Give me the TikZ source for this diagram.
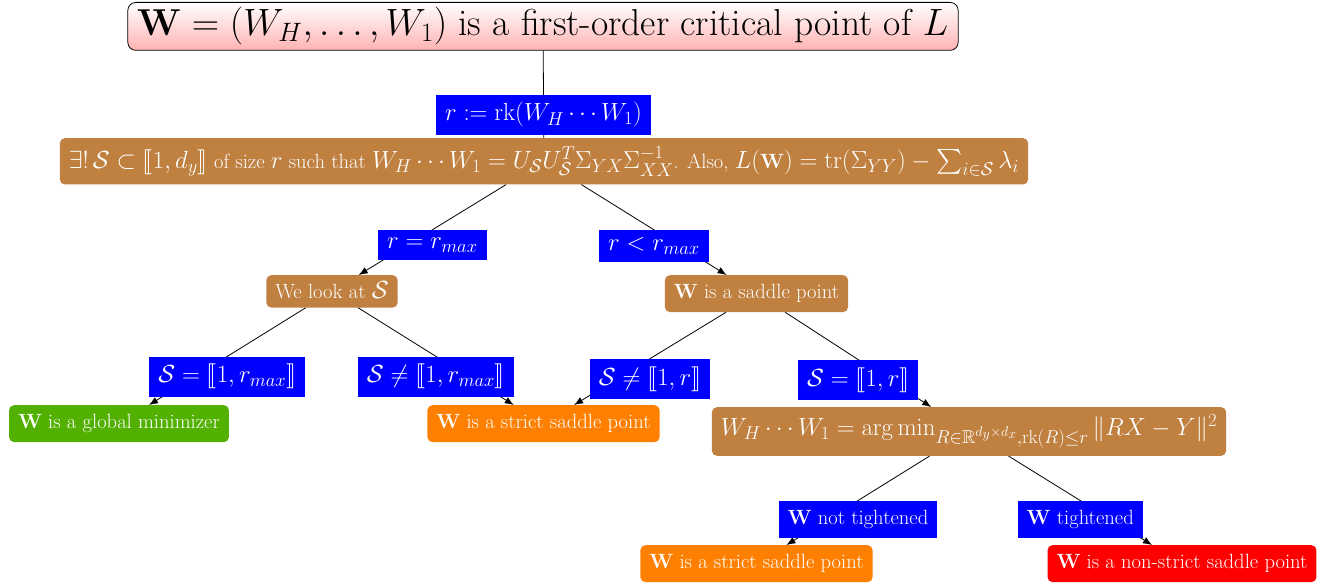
\RequirePackage{fix-cm}
\documentclass[tikz,border=0pt]{standalone}
\usepackage{amsmath,amssymb}
\usepackage{stmaryrd}
\usepackage[no-math]{fontspec}
\DeclareMathSizes{20.6}{24.8}{18.6}{14}
\DeclareMathSizes{37.5}{38}{26.6}{19}
\usetikzlibrary{arrows.meta}
\definecolor{mybrown}{RGB}{191,128,64}
\definecolor{mygreen}{RGB}{82,176,0}
\definecolor{myorange}{RGB}{255,128,0}
\newcommand{\bW}{\textbf{W}}
\begin{document}
\begin{tikzpicture}[x=1pt,y=-1pt,
  font=\fontsize{20.6}{24}\selectfont,
  box/.style={rounded corners=5pt, inner xsep=9pt, inner ysep=9.2pt, text height=14pt, text depth=4.5pt, text=white, anchor=north},
  brownbox/.style={box, fill=mybrown},
  bigbox/.style={rounded corners=5pt, inner xsep=9pt, text=white, anchor=north, fill=mybrown},
  lbl/.style={fill=blue, text=white, inner xsep=9pt, inner ysep=7.5pt, below},
  tlbl/.style={lbl, inner ysep=9.2pt, text height=14pt, text depth=4.5pt},
  conn/.style={line width=0.8pt, draw=black},
  arr/.style={conn, -{Latex[length=9pt,width=7pt]}}]
\useasboundingbox (0,0) rectangle (1336,586);
\node[draw=black, line width=0.8pt, rounded corners=8pt, top color=white, bottom color=red!30,
      inner xsep=10pt, inner ysep=5pt, anchor=north, text=black, font=\fontsize{37.5}{44}\selectfont] (top) at (543,2)
  {$\bW=(W_H,\ldots,W_1)$ is a first-order critical point of $L$};
\node[bigbox, inner ysep=8pt] (b1) at (544,138)
  {$\exists!\,\mathcal{S}\subset\llbracket 1,d_y\rrbracket$ of size $r$ such that $W_H\cdots W_1=U_{\mathcal{S}}U_{\mathcal{S}}^T\Sigma_{YX}\Sigma_{XX}^{-1}$. Also, $L(\bW)=\mathrm{tr}(\Sigma_{YY})-\sum_{i\in\mathcal{S}}\lambda_i$};
\node[brownbox, text depth=0pt] (look) at (332,275) {We look at $\mathcal{S}$};
\node[brownbox] (sad) at (756.5,275) {\bW{} is a saddle point};
\node[box, fill=mygreen] (glob) at (119,405) {\bW{} is a global minimizer};
\node[box, fill=myorange] (ss1) at (543.5,405) {\bW{} is a strict saddle point};
\node[bigbox, inner ysep=7.5pt] (am) at (969,407)
  {$W_H\cdots W_1=\arg\min_{R\in\mathbb{R}^{d_y\times d_x},\mathrm{rk}(R)\leq r}\|RX-Y\|^2$};
\node[box, fill=myorange] (ss2) at (756.5,545) {\bW{} is a strict saddle point};
\node[box, fill=red] (nss) at (1182,545) {\bW{} is a non-strict saddle point};

\draw[conn] (top) -- node[lbl] {$r:=\mathrm{rk}(W_H\cdots W_1)$} (b1);
\draw[arr] (b1) -- node[lbl] {$r=r_{max}$} (look);
\draw[arr] (b1) -- node[lbl] {$r<r_{max}$} (sad);
\draw[arr] (look) -- node[lbl] {$\mathcal{S}=\llbracket 1,r_{max}\rrbracket$} (glob);
\draw[arr] (look) -- node[lbl] {$\mathcal{S}\neq\llbracket 1,r_{max}\rrbracket$} (ss1);
\draw[arr] (sad) -- node[lbl] {$\mathcal{S}\neq\llbracket 1,r\rrbracket$} (ss1);
\draw[arr] (sad) -- node[lbl] {$\mathcal{S}=\llbracket 1,r\rrbracket$} (am);
\draw[arr] (am) -- node[tlbl] {\bW{} not tightened} (ss2);
\draw[arr] (am) -- node[tlbl] {\bW{} tightened} (nss);
\end{tikzpicture}
\end{document}
